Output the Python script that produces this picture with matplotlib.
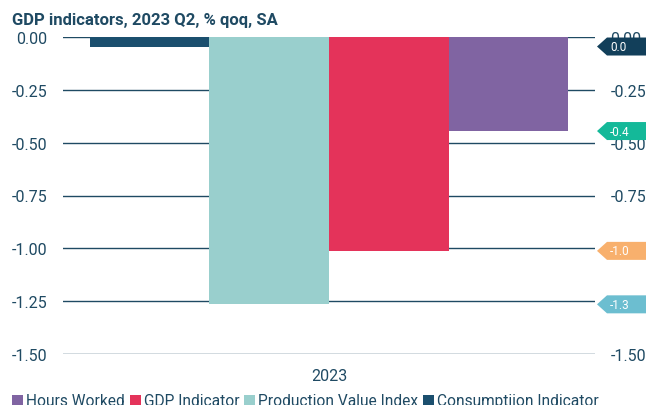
import matplotlib
matplotlib.use("Agg")
import matplotlib.pyplot as plt
import matplotlib.transforms as mtransforms
from matplotlib.patches import Polygon

categories = ["2023"]
series_names = ["Consumptiion Indicator", "Production Value Index", "GDP Indicator", "Hours Worked"]
series_values = [[-0.045], [-1.265], [-1.012], [-0.445]]
label_values = [0.0, -1.3, -1.0, -0.4]
yticks = [0.0, -0.25, -0.5, -0.75, -1.0, -1.25, -1.5]

bar_colors = ["#1b4f6e", "#99cfcd", "#e4335a", "#8064a2"]
flag_colors = ["#123f5a", "#6cbed0", "#f8b06d", "#14b999"]
text_color = "#1f4a63"
grid_color = "#1f4a63"

plt.rcParams['font.family'] = ['Roboto', 'DejaVu Sans']

W, H = 648, 406
fig = plt.figure(figsize=(W/100, H/100), dpi=100)
ax = fig.add_axes([63/W, 1-355/H, (595-63)/W, (355-38)/H])

n = len(series_names)
w = 0.9 / n
for i, (name, vals, c) in enumerate(zip(series_names, series_values, bar_colors)):
    xs = [j + (i - (n-1)/2) * w for j in range(len(categories))]
    ax.bar(xs, vals, width=w, color=c, label=name, zorder=2)

ax.set_xlim(-0.5, 0.5)
ax.set_ylim(-1.5, 0)
ax.set_yticks(yticks)
ax.set_yticklabels([f"{t:.2f}" for t in yticks])
ax.set_xticks(range(len(categories)))
ax.set_xticklabels(categories)
ax.yaxis.grid(True, color=grid_color, linewidth=1.0, zorder=0)
ax.set_axisbelow(True)
for s in ax.spines.values():
    s.set_visible(False)
ax.tick_params(axis='y', length=0, pad=11, labelsize=11.5, labelcolor=text_color)
ax.tick_params(axis='x', length=0, pad=10, labelsize=11.5, labelcolor=text_color)

ax2 = ax.twinx()
ax2.set_ylim(ax.get_ylim())
ax2.set_yticks(yticks)
ax2.set_yticklabels([f"{t:.2f}" for t in yticks])
for s in ax2.spines.values():
    s.set_visible(False)
ax2.tick_params(axis='y', length=0, pad=11, labelsize=11.5, labelcolor=text_color)

# value flags on the right (drawn on ax2 so they cover its tick labels)
trans = mtransforms.blended_transform_factory(fig.transFigure, ax2.transData)
px_per_unit = (355 - 38) / 1.5
hh = 9 / px_per_unit
for i, (vals, fc) in enumerate(zip(series_values, flag_colors)):
    v = vals[0]
    pts = [(597/W, v), (607/W, v + hh), (646/W, v + hh), (646/W, v - hh), (607/W, v - hh)]
    ax2.add_patch(Polygon(pts, closed=True, transform=trans, fc=fc, ec='none',
                          clip_on=False, zorder=10))
    ax2.text(610/W, v, f"{label_values[i]:.1f}", transform=trans, ha='left', va='center',
             fontsize=8.5, color='white', zorder=11, clip_on=False)

fig.text(12/W, 1-20/H, "GDP indicators, 2023 Q2, % qoq, SA", fontsize=12, fontweight='bold',
         color=text_color, va='center', ha='left')

handles, labels = ax.get_legend_handles_labels()
leg = fig.legend(handles[::-1], labels[::-1], loc='center left', bbox_to_anchor=(6/W, 1-402/H),
                 ncol=4, frameon=False, fontsize=11.2, handlelength=0.7, handleheight=0.7,
                 handletextpad=0.2, columnspacing=0.3, labelcolor=text_color, borderaxespad=0)

fig.savefig("out.png", dpi=100)
